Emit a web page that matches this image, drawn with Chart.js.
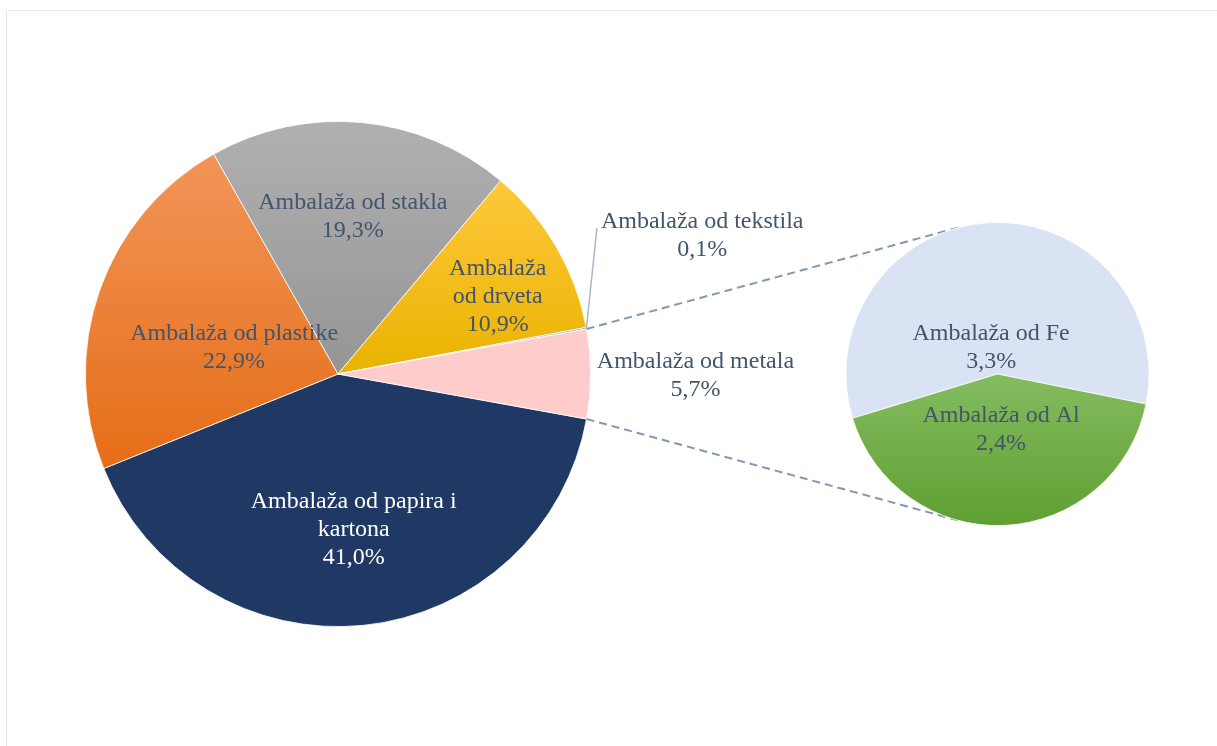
<!DOCTYPE html>
<html>
<head>
<meta charset="utf-8">
<script src="https://cdn.jsdelivr.net/npm/chart.js@4/dist/chart.umd.min.js"></script>
<style>
  body { margin: 0; background: #fff; overflow: hidden; }
  #wrap { position: relative; width: 1217px; height: 746px; overflow: hidden; }
  #frame { position: absolute; left: 6px; top: 10px; width: 1300px; height: 800px; border: 1.5px solid #e2e5ea; }
  canvas { position: absolute; left: 0; top: 0; }
</style>
</head>
<body>
<div id="wrap">
  <div id="frame"></div>
  <canvas id="glavni" width="1217" height="746"></canvas>
  <canvas id="metali" width="1217" height="746"></canvas>
</div>
<script>
// podaci
const kategorije = ['Ambalaža od papira i kartona', 'Ambalaža od plastike', 'Ambalaža od stakla', 'Ambalaža od drveta', 'Ambalaža od tekstila', 'Ambalaža od metala']
const udjeli = [41.0, 22.9, 19.3, 10.9, 0.1, 5.7]
const metali = ['Ambalaža od Fe', 'Ambalaža od Al']
const udjeliMetala = [3.3, 2.4]

// kako se natpisi lome u redove
const natpisi = [
  ['Ambalaža od papira i', 'kartona'],
  ['Ambalaža od plastike'],
  ['Ambalaža od stakla'],
  ['Ambalaža', 'od drveta'],
  ['Ambalaža od tekstila'],
  ['Ambalaža od metala']
]
const natpisiMetala = [['Ambalaža od Fe'], ['Ambalaža od Al']]

// boje: [gore, dolje]
const boje = [
  ['#203864', '#203864'],
  ['#f29559', '#e56d17'],
  ['#b0b0b0', '#959595'],
  ['#ffc83c', '#e9b300'],
  ['#5b9bd5', '#5b9bd5'],
  ['#ffcccc', '#ffcccc']
]
const bojeMetala = [['#dae3f3', '#dae3f3'], ['#84bc60', '#5f9f32']]

// polozaj natpisa: [udio radijusa, pomak kuta u stupnjevima]
const polozaj = [[0.61, 0], [0.426, -4.2], [0.635, 0], [0.705, 4], [1.545, -10.6], [1.415, 0]]
const polozajMetala = [[0.19, -10], [0.356, -1]]

const tekst = '#44546a'
const font = '24px "Liberation Serif", "Times New Roman", serif'

function fmt(v) {
  return v.toFixed(1).replace('.', ',') + '%'
}

// gradijent po visini svakog isjecka
function gradijentPlugin(paleta) {
  return {
    id: 'gradijent',
    beforeDatasetsDraw(chart) {
      const ctx = chart.ctx
      chart.getDatasetMeta(0).data.forEach(function (arc, i) {
        let ys = [arc.y]
        ys.push(arc.y + Math.sin(arc.startAngle) * arc.outerRadius)
        ys.push(arc.y + Math.sin(arc.endAngle) * arc.outerRadius)
        for (let k = -4; k <= 4; k++) {
          const a = Math.PI / 2 + k * Math.PI
          if (a > arc.startAngle && a < arc.endAngle) ys.push(arc.y + Math.sin(a) * arc.outerRadius)
        }
        const top = Math.min.apply(null, ys), bot = Math.max.apply(null, ys)
        const g = ctx.createLinearGradient(0, top, 0, bot + 0.01)
        g.addColorStop(0, paleta[i][0])
        g.addColorStop(1, paleta[i][1])
        arc.options = Object.assign({}, arc.options, { backgroundColor: g })
      })
    }
  }
}

function crtajNatpise(chart, linije, vrijednosti, pol, zadnjaBijela) {
  const ctx = chart.ctx
  ctx.save()
  ctx.font = font
  ctx.textAlign = 'center'
  ctx.textBaseline = 'middle'
  chart.getDatasetMeta(0).data.forEach(function (arc, i) {
    const mid = (arc.startAngle + arc.endAngle) / 2 + pol[i][1] * Math.PI / 180
    const r = arc.outerRadius * pol[i][0]
    const x = arc.x + Math.cos(mid) * r
    const y = arc.y + Math.sin(mid) * r + 2
    const redovi = linije[i].concat([fmt(vrijednosti[i])])
    const lh = 28
    ctx.fillStyle = (zadnjaBijela && i === 0) ? '#ffffff' : tekst
    redovi.forEach(function (t, j) {
      ctx.fillText(t, x, y + (j - (redovi.length - 1) / 2) * lh)
    })
    // vodilica za tekstil
    if (linije === natpisi && i === 4) {
      const w = ctx.measureText(redovi[0]).width
      const ax = arc.x + Math.cos((arc.startAngle + arc.endAngle) / 2) * arc.outerRadius
      const ay = arc.y + Math.sin((arc.startAngle + arc.endAngle) / 2) * arc.outerRadius
      ctx.strokeStyle = '#a9b8cc'
      ctx.lineWidth = 1.5
      ctx.beginPath()
      ctx.moveTo(ax, ay)
      ctx.lineTo(x - w / 2 - 4, y - 8)
      ctx.stroke()
    }
  })
  ctx.restore()
}

const glavni = new Chart(document.getElementById('glavni'), {
  type: 'pie',
  data: {
    labels: kategorije,
    datasets: [{
      data: udjeli,
      backgroundColor: boje.map(b => b[0]),
      borderColor: '#ffffff',
      borderWidth: 0.8,
      hoverOffset: 0
    }]
  },
  options: {
    responsive: false,
    animation: false,
    events: [],
    rotation: 100.27,
    layout: { padding: { left: 85, right: 626, top: 121, bottom: 119 } },
    plugins: { legend: { display: false }, tooltip: { enabled: false } }
  },
  plugins: [gradijentPlugin(boje), {
    id: 'natpisi',
    afterDatasetsDraw(chart) { crtajNatpise(chart, natpisi, udjeli, polozaj, true) }
  }]
})

new Chart(document.getElementById('metali'), {
  type: 'pie',
  data: {
    labels: metali,
    datasets: [{
      data: udjeliMetala,
      backgroundColor: bojeMetala.map(b => b[0]),
      borderColor: '#ffffff',
      borderWidth: 0.8,
      hoverOffset: 0
    }]
  },
  options: {
    responsive: false,
    animation: false,
    events: [],
    rotation: 253,
    layout: { padding: { left: 845, right: 67, top: 222, bottom: 220 } },
    plugins: { legend: { display: false }, tooltip: { enabled: false } }
  },
  plugins: [gradijentPlugin(bojeMetala), {
    id: 'spojnice',
    beforeDatasetsDraw(chart) {
      // isprekidane linije od isjecka metala do drugog kruga
      const m = glavni.getDatasetMeta(0).data[5]
      const d = chart.getDatasetMeta(0).data[0]
      const ctx = chart.ctx
      const kut = 105 * Math.PI / 180
      ctx.save()
      ctx.strokeStyle = '#8497b0'
      ctx.lineWidth = 2
      ctx.setLineDash([8, 5])
      ;[[m.startAngle, -kut], [m.endAngle, kut]].forEach(function (p) {
        ctx.beginPath()
        ctx.moveTo(m.x + Math.cos(p[0]) * m.outerRadius, m.y + Math.sin(p[0]) * m.outerRadius)
        ctx.lineTo(d.x + Math.cos(p[1]) * d.outerRadius, d.y + Math.sin(p[1]) * d.outerRadius)
        ctx.stroke()
      })
      ctx.restore()
    },
    afterDatasetsDraw(chart) { crtajNatpise(chart, natpisiMetala, udjeliMetala, polozajMetala, false) }
  }]
})
</script>
</body>
</html>
